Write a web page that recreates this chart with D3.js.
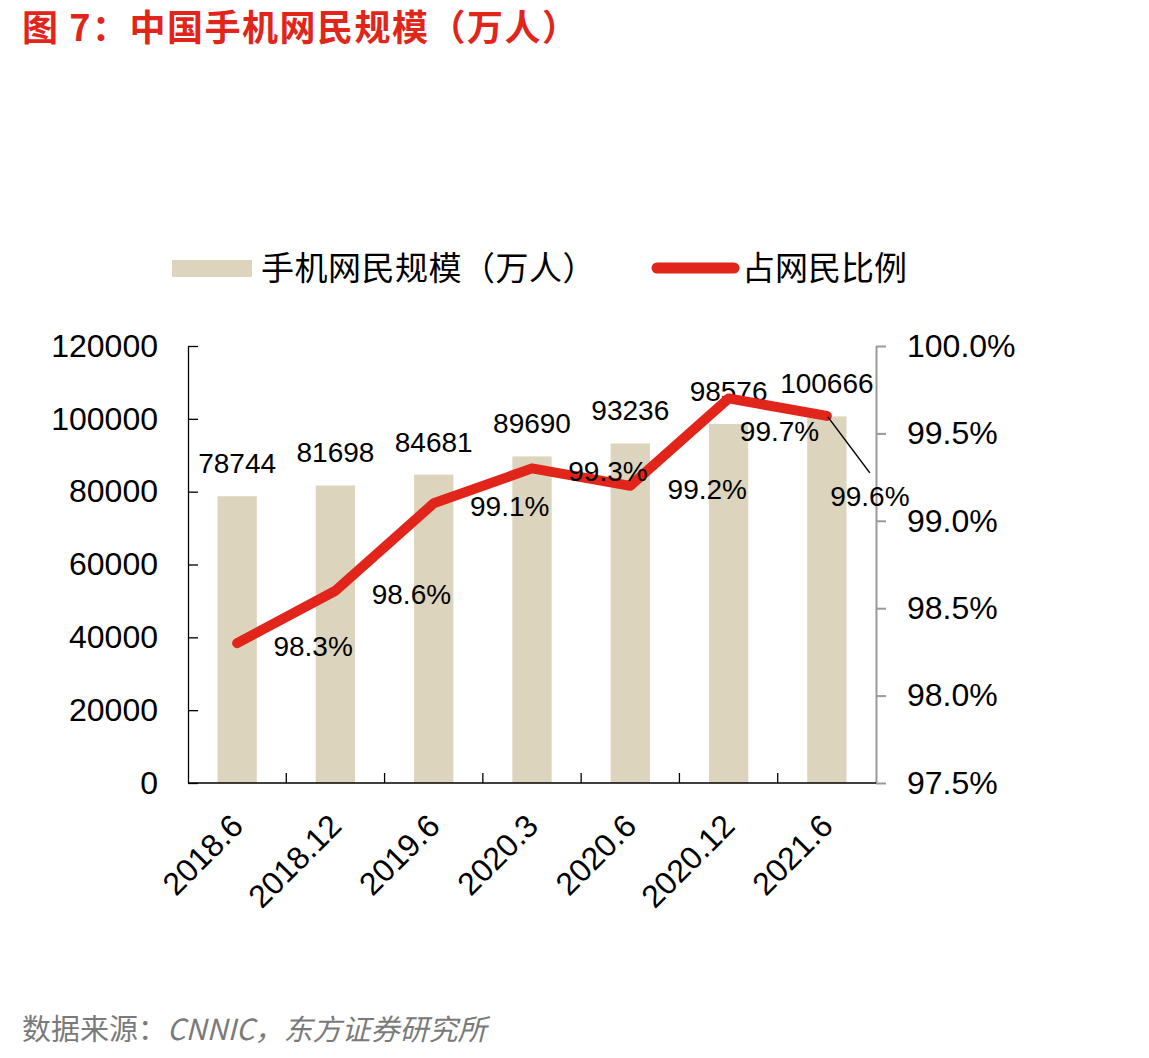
<!DOCTYPE html>
<html>
<head>
<meta charset="utf-8">
<script src="https://cdn.jsdelivr.net/npm/d3@7"></script>
<style>
  body { margin: 0; background: #fff; }
  svg text { font-family: "Liberation Sans", Arial, "Noto Sans CJK SC", sans-serif; }
</style>
</head>
<body>
<div id="chart"></div>
<script>
'use strict';

// data
var periods = ['2018.6', '2018.12', '2019.6', '2020.3', '2020.6', '2020.12', '2021.6'];
var mobileUsers = [78744, 81698, 84681, 89690, 93236, 98576, 100666];
var shareOfUsers = [98.3, 98.6, 99.1, 99.3, 99.2, 99.7, 99.6];
var leftTicks = [0, 20000, 40000, 60000, 80000, 100000, 120000];
var rightTicks = [97.5, 98.0, 98.5, 99.0, 99.5, 100.0];

// where Excel dropped the percent labels, relative to each point
var pctLabelShift = [[76, 13], [76, 13], [76, 13], [76, 13], [77, 13], [51, 43], [43, 90]];

var width = 1149, height = 1058;
var plotLeft = 188, plotRight = 876, plotTop = 346, plotBottom = 783;
var red = '#e1251b', tan = '#ddd4bd';
var cjk = '"Noto Sans CJK SC", sans-serif';

var svg = d3.select('#chart')
    .append('svg')
    .attr('width', width)
    .attr('height', height);

// title
svg.append('text')
    .attr('x', 22)
    .attr('y', 41)
    .attr('fill', red)
    .style('font-size', '36px')
    .style('font-weight', 'bold')
    .style('letter-spacing', '1.5px')
    .style('font-family', cjk)
    .text('图 7：中国手机网民规模（万人）');

var x = d3.scaleBand()
    .domain(periods)
    .range([plotLeft, plotRight])
    .paddingInner(0.6)
    .paddingOuter(0.3);

var y = d3.scaleLinear().domain([0, 120000]).range([plotBottom, plotTop]);
var y2 = d3.scaleLinear().domain([97.5, 100]).range([plotBottom, plotTop]);

// bars
svg.selectAll('rect.bar')
    .data(mobileUsers)
    .enter().append('rect')
    .attr('class', 'bar')
    .attr('x', function (d, i) { return x(periods[i]); })
    .attr('y', function (d) { return y(d); })
    .attr('width', x.bandwidth())
    .attr('height', function (d) { return plotBottom - y(d); })
    .attr('fill', tan);

// left axis
var gl = svg.append('g')
    .attr('transform', 'translate(' + plotLeft + ',0)')
    .call(d3.axisLeft(y).tickValues(leftTicks).tickFormat(d3.format('d'))
        .tickSizeInner(-10).tickSizeOuter(0).tickPadding(30));
gl.select('.domain').attr('stroke', '#000').attr('stroke-width', 1.3);
gl.selectAll('.tick line').attr('stroke', '#000').attr('stroke-width', 1.3);
gl.selectAll('.tick text').style('font-size', '32px').attr('fill', '#000');

// right axis
var gr = svg.append('g')
    .attr('transform', 'translate(' + plotRight + ',0)')
    .call(d3.axisRight(y2).tickValues(rightTicks).tickSizeInner(10).tickSizeOuter(0).tickPadding(21)
        .tickFormat(function (d) { return d.toFixed(1) + '%'; }));
gr.select('.domain').attr('stroke', '#9a9a9a').attr('stroke-width', 2);
gr.selectAll('.tick line').attr('stroke', '#9a9a9a').attr('stroke-width', 2);
gr.selectAll('.tick text').style('font-size', '32px').attr('fill', '#000');

// bottom axis: line, boundary ticks, rotated labels
svg.append('line')
    .attr('x1', plotLeft).attr('x2', plotRight)
    .attr('y1', plotBottom).attr('y2', plotBottom)
    .attr('stroke', '#000').attr('stroke-width', 1.3);

svg.selectAll('line.xtick')
    .data(periods.slice(1))
    .enter().append('line')
    .attr('class', 'xtick')
    .attr('x1', function (d) { return x(d) - x.step() * x.paddingInner() / 2; })
    .attr('x2', function (d) { return x(d) - x.step() * x.paddingInner() / 2; })
    .attr('y1', plotBottom).attr('y2', plotBottom - 10)
    .attr('stroke', '#000').attr('stroke-width', 1.3);

svg.selectAll('text.xlab')
    .data(periods)
    .enter().append('text')
    .attr('class', 'xlab')
    .attr('text-anchor', 'end')
    .attr('transform', function (d) {
        return 'translate(' + (x(d) + x.bandwidth() / 2 + 8) + ',' + (plotBottom + 45) + ') rotate(-45)';
    })
    .style('font-size', '32px')
    .text(function (d) { return d; });

// bar value labels
svg.selectAll('text.barlab')
    .data(mobileUsers)
    .enter().append('text')
    .attr('class', 'barlab')
    .attr('text-anchor', 'middle')
    .attr('x', function (d, i) { return x(periods[i]) + x.bandwidth() / 2; })
    .attr('y', function (d) { return y(d) - 23; })
    .style('font-size', '28px')
    .text(function (d) { return d; });

// line
var cx = function (i) { return x(periods[i]) + x.bandwidth() / 2; };
var line = d3.line()
    .x(function (d, i) { return cx(i); })
    .y(function (d) { return y2(d); });

svg.append('path')
    .datum(shareOfUsers)
    .attr('d', line)
    .attr('fill', 'none')
    .attr('stroke', red)
    .attr('stroke-width', 10)
    .attr('stroke-linecap', 'round')
    .attr('stroke-linejoin', 'round');

// leader line for the last label
var last = shareOfUsers.length - 1;
svg.append('line')
    .attr('x1', cx(last) + 1).attr('y1', y2(shareOfUsers[last]) + 1)
    .attr('x2', cx(last) + 43).attr('y2', y2(shareOfUsers[last]) + 57)
    .attr('stroke', '#000').attr('stroke-width', 1.5);

svg.selectAll('text.pctlab')
    .data(shareOfUsers)
    .enter().append('text')
    .attr('class', 'pctlab')
    .attr('text-anchor', 'middle')
    .attr('x', function (d, i) { return cx(i) + pctLabelShift[i][0]; })
    .attr('y', function (d, i) { return y2(d) + pctLabelShift[i][1]; })
    .style('font-size', '28px')
    .text(function (d) { return d.toFixed(1) + '%'; });

// legend
var legend = svg.append('g');
legend.append('rect')
    .attr('x', 172).attr('y', 260)
    .attr('width', 80).attr('height', 17)
    .attr('fill', tan);
legend.append('text')
    .attr('x', 261).attr('y', 280)
    .style('font-size', '33px')
    .style('letter-spacing', '0.5px')
    .style('font-family', cjk)
    .text('手机网民规模（万人）');
legend.append('line')
    .attr('x1', 657).attr('x2', 734)
    .attr('y1', 268).attr('y2', 268)
    .attr('stroke', red).attr('stroke-width', 11)
    .attr('stroke-linecap', 'round');
legend.append('text')
    .attr('x', 742).attr('y', 280)
    .style('font-size', '33px')
    .style('font-family', cjk)
    .text('占网民比例');

// source note
var note = svg.append('text')
    .attr('x', 22).attr('y', 1040)
    .attr('fill', '#7a7a7a')
    .style('font-size', '29px')
    .style('font-family', cjk);
note.append('tspan').text('数据来源：');
note.append('tspan').style('font-style', 'italic').text('CNNIC，东方证券研究所');
</script>
</body>
</html>
